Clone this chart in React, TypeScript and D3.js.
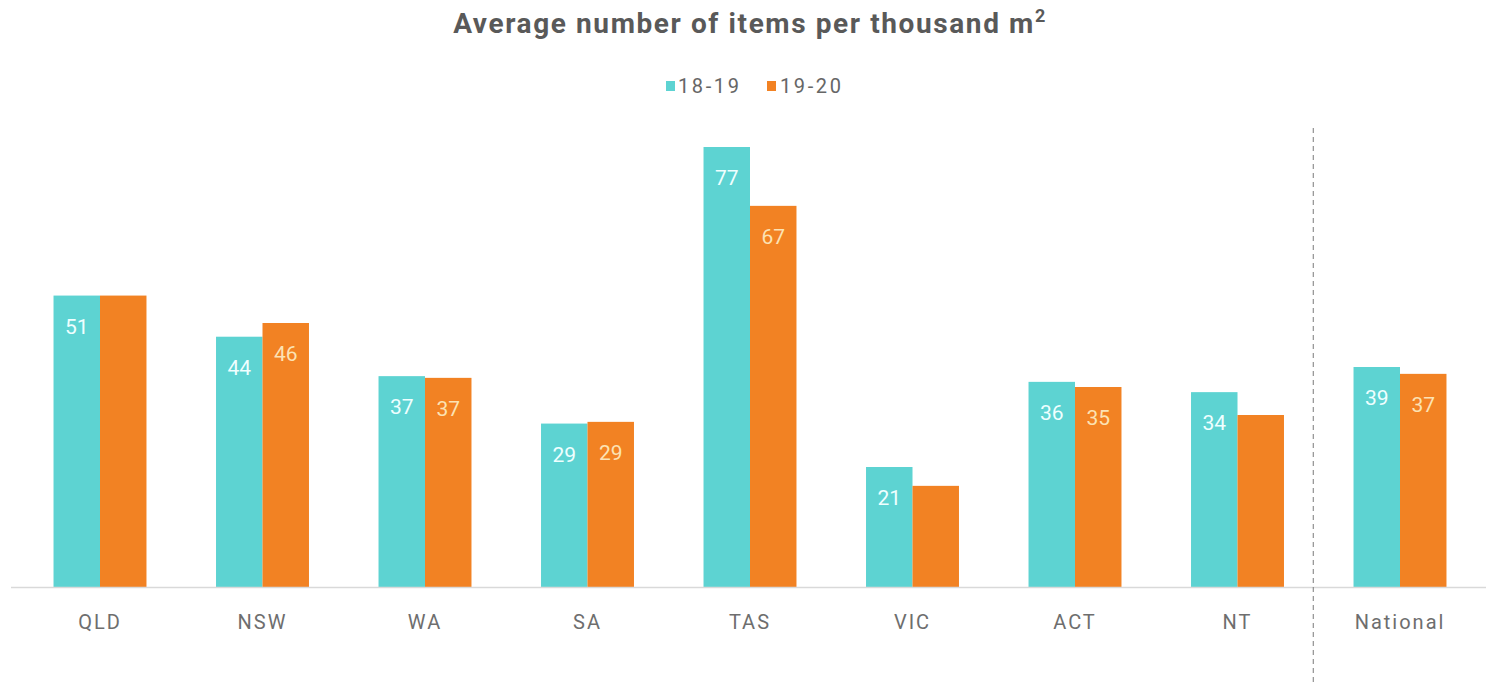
import React from "react";
import * as d3 from "d3";

const categories = ["QLD", "NSW", "WA", "SA", "TAS", "VIC", "ACT", "NT", "National"];
const series1819 = [51, 43.8, 36.9, 28.6, 77, 21, 35.9, 34.1, 38.5];
const series1920 = [51, 46.2, 36.6, 28.9, 66.7, 17.7, 35, 30.1, 37.3];
const labels1819: (string | null)[] = ["51", "44", "37", "29", "77", "21", "36", "34", "39"];
const labels1920: (string | null)[] = [null, "46", "37", "29", "67", null, "35", null, "37"];
const seriesNames = ["18-19", "19-20"];

const W = 1486;
const H = 685;
const TEAL = "#5DD3D2";
const ORANGE = "#F28223";
const FONT = "Roboto, 'DejaVu Sans', sans-serif";

export default function App() {
  const x = d3
    .scaleBand<string>()
    .domain(categories)
    .range([18.75, 1481.25])
    .paddingInner(0.428)
    .paddingOuter(0.214);
  const sub = d3.scaleBand<string>().domain(seriesNames).range([0, x.bandwidth()]).padding(0);
  const y = d3.scaleLinear().domain([0, 77]).range([587, 147]);

  const ntEnd = (x("NT") as number) + x.bandwidth();
  const natStart = x("National") as number;
  const divX = (ntEnd + natStart) / 2 - 5.5;

  const data = [
    { name: seriesNames[0], values: series1819, labels: labels1819, color: TEAL, labelColor: "#EFFFFF" },
    { name: seriesNames[1], values: series1920, labels: labels1920, color: ORANGE, labelColor: "#FCE2B4" },
  ];

  return (
    <svg width={W} height={H} style={{ position: "absolute", left: 0, top: 0, background: "#fff" }}>
      <text
        x={750}
        y={33}
        textAnchor="middle"
        fontFamily={FONT}
        fontWeight={700}
        fontSize={28}
        letterSpacing={1.6}
        fill="#595959"
      >
        Average number of items per thousand m
        <tspan fontSize={18} dy={-11}>2</tspan>
      </text>

      {/* legend */}
      <g fontFamily={FONT} fontSize={20} fill="#666">
        <rect x={666} y={81} width={9} height={10} fill={TEAL} />
        <text x={678} y={93} letterSpacing={2.6}>{seriesNames[0]}</text>
        <rect x={767} y={81} width={9} height={10} fill={ORANGE} />
        <text x={780} y={93} letterSpacing={2.6}>{seriesNames[1]}</text>
      </g>

      {/* bars */}
      {data.map((s) => (
        <g key={s.name}>
          {categories.map((c, i) => {
            const bx = (x(c) as number) + (sub(s.name) as number);
            const by = y(s.values[i]);
            return (
              <g key={c}>
                <rect x={bx} y={by} width={sub.bandwidth()} height={y(0) - by} fill={s.color} />
                {s.labels[i] && (
                  <text
                    x={bx + sub.bandwidth() / 2}
                    y={by + 38}
                    textAnchor="middle"
                    fontFamily={FONT}
                    fontSize={21}
                    fill={s.labelColor}
                  >
                    {s.labels[i]}
                  </text>
                )}
              </g>
            );
          })}
        </g>
      ))}

      {/* axis baseline */}
      <line x1={11} x2={W} y1={y(0) + 0.5} y2={y(0) + 0.5} stroke="#D9D9D9" strokeWidth={1.5} />

      {/* category labels */}
      {categories.map((c) => (
        <text
          key={c}
          x={(x(c) as number) + x.bandwidth() / 2}
          y={629}
          textAnchor="middle"
          fontFamily={FONT}
          fontSize={20}
          letterSpacing={2}
          fill="#6E6E6E"
        >
          {c}
        </text>
      ))}

      {/* divider */}
      <line x1={divX} x2={divX} y1={128} y2={H} stroke="#7A7A7A" strokeWidth={1} strokeDasharray="5 4" />
    </svg>
  );
}
